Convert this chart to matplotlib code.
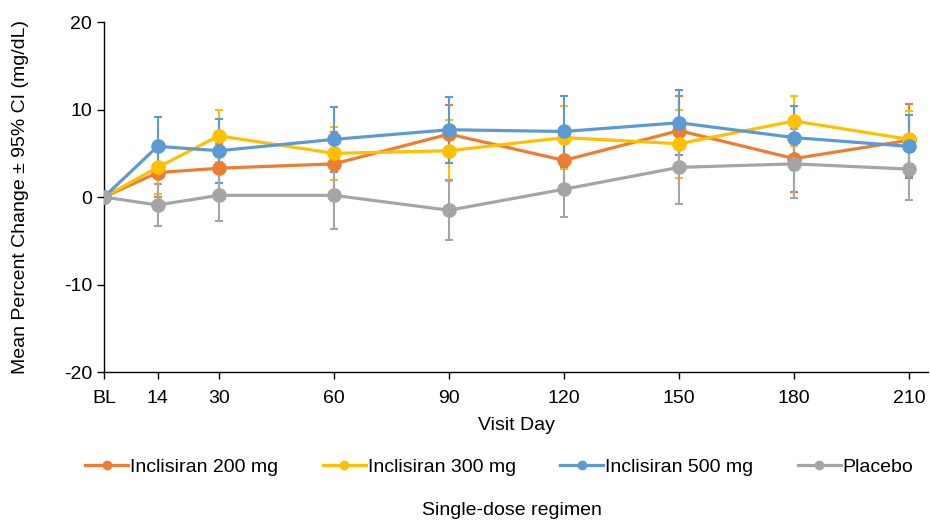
import matplotlib
matplotlib.use("Agg")
import matplotlib.pyplot as plt
from matplotlib.lines import Line2D

plt.rcParams["font.family"] = ["Liberation Sans", "DejaVu Sans"]
plt.rcParams["axes.unicode_minus"] = False

# visit days (BL = day 0) and tick labels
days = [0, 14, 30, 60, 90, 120, 150, 180, 210]
day_labels = ["BL", "14", "30", "60", "90", "120", "150", "180", "210"]

# mean percent change per arm
inc200 = [0, 2.8, 3.3, 3.8, 7.2, 4.2, 7.6, 4.4, 6.5]
inc300 = [0, 3.4, 7.0, 5.0, 5.3, 6.8, 6.1, 8.7, 6.6]
inc500 = [0, 5.8, 5.3, 6.6, 7.7, 7.5, 8.5, 6.8, 5.8]
placebo = [0, -0.9, 0.2, 0.2, -1.5, 0.9, 3.4, 3.8, 3.2]

# 95% CI half-widths
ci200 = [0, 2.8, 2.8, 3.6, 3.3, 3.0, 3.9, 3.8, 4.1]
ci300 = [0, 3.0, 3.0, 3.0, 3.5, 3.6, 3.9, 2.9, 3.2]
ci500 = [0, 3.4, 3.65, 3.75, 3.75, 4.1, 3.7, 3.65, 3.6]
ci_pbo = [0, 2.4, 2.9, 3.8, 3.4, 3.2, 4.2, 3.95, 3.55]

names = ["Inclisiran 200 mg", "Inclisiran 300 mg", "Inclisiran 500 mg", "Placebo"]
colors = ["#ED7D31", "#FFC000", "#5B9BD5", "#A5A5A5"]
series = [inc200, inc300, inc500, placebo]
cis = [ci200, ci300, ci500, ci_pbo]

fig = plt.figure(figsize=(9.3, 5.27), dpi=100)
ax = fig.add_axes([0.1118, 0.294, 0.886, 0.664])

for vals, ci, c in zip(series, cis, colors):
    ax.errorbar(days, vals, yerr=ci, color=c, lw=2.3, marker="o", markersize=9.5,
                elinewidth=1.5, capsize=3.2, capthick=1.5, zorder=3)

ax.set_xlim(0, 214.9)
ax.set_ylim(-20, 20)
ax.set_xticks(days)
ax.set_xticklabels(day_labels)
ax.set_yticks([-20, -10, 0, 10, 20])
ax.tick_params(axis="both", labelsize=14, length=5, width=1, direction="out")
ax.tick_params(axis="x", pad=8)
for s in ["top", "right"]:
    ax.spines[s].set_visible(False)
for s in ["left", "bottom"]:
    ax.spines[s].set_linewidth(1)
ax.set_ylabel("Mean Percent Change \u00b1 95% CI (mg/dL)", fontsize=14, labelpad=25)
ax.set_xlabel("Visit Day", fontsize=14, labelpad=7)

handles = [Line2D([], [], color=c, lw=2.3, marker="o", markersize=6) for c in colors]
fig.legend(handles, names, loc="center", bbox_to_anchor=(0.537, 0.114), ncol=4,
           frameon=False, fontsize=14, handlelength=2.2, handletextpad=0.1,
           columnspacing=2.3)
fig.text(0.55, 0.032, "Single-dose regimen", ha="center", va="center", fontsize=14)

fig.savefig("out.png", dpi=100)
